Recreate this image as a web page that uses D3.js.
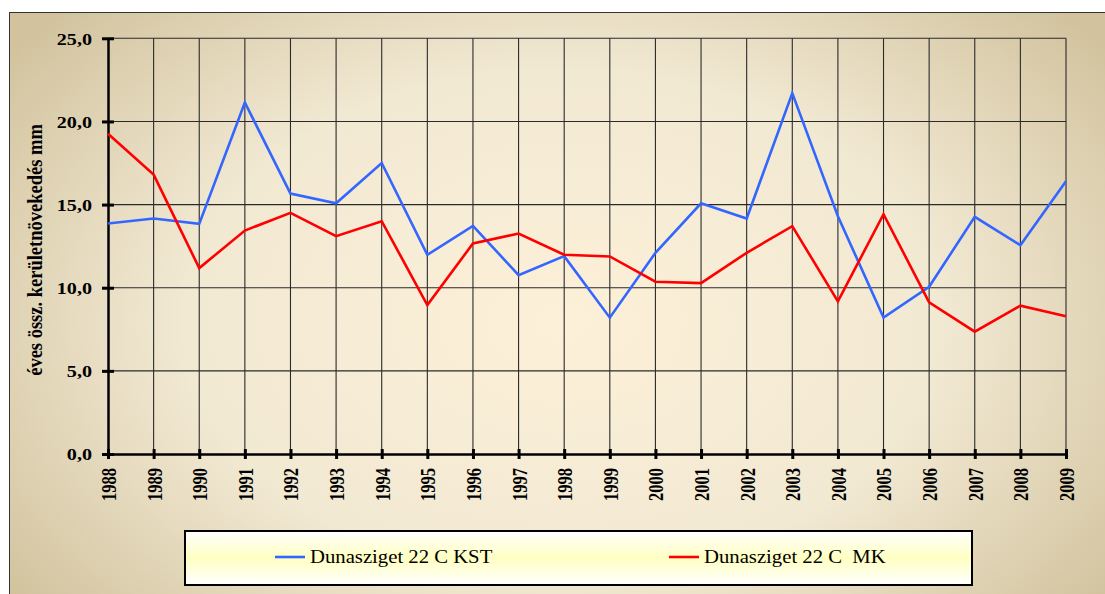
<!DOCTYPE html>
<html>
<head>
<meta charset="utf-8">
<script src="https://cdn.jsdelivr.net/npm/d3@7"></script>
<style>
  html, body { margin: 0; padding: 0; background: #ffffff; }
  svg { display: block; }
  text { font-family: "Liberation Serif", "Times New Roman", "DejaVu Serif", serif; }
</style>
</head>
<body>
<svg id="chart" width="1105" height="594"></svg>
<script>
const years = ["1988","1989","1990","1991","1992","1993","1994","1995","1996","1997","1998","1999","2000","2001","2002","2003","2004","2005","2006","2007","2008","2009"];
const kst = [13.86,14.16,13.84,21.14,15.66,15.08,17.5,11.98,13.72,10.76,11.9,8.2,12.1,15.08,14.16,21.7,14.3,8.2,10.06,14.26,12.56,16.4];
const mk = [19.26,16.8,11.18,13.44,14.5,13.1,14.0,8.96,12.66,13.26,11.98,11.88,10.36,10.28,12.1,13.7,9.18,14.42,9.12,7.36,8.92,8.28];
const yTicks = [0,5,10,15,20,25];
const seriesNames = ["Dunasziget 22 C KST", "Dunasziget 22 C\u00a0\u00a0MK"];
const seriesColors = ["#3366ff", "#ff0000"];
const yTitle = "éves össz. kerületnövekedés mm";

(function () {
const svg = d3.select("#chart");
const defs = svg.append("defs");

const bg = defs.append("radialGradient").attr("id","bgGrad")
  .attr("cx","0.5").attr("cy","0.52").attr("r","0.62")
  .attr("gradientTransform","translate(0.5,0.5) scale(1,1.25) translate(-0.5,-0.5)");
bg.append("stop").attr("offset","0%").attr("stop-color","#fdf0d8");
bg.append("stop").attr("offset","55%").attr("stop-color","#f2e9d3");
bg.append("stop").attr("offset","100%").attr("stop-color","#d2c39e");

const lg = defs.append("linearGradient").attr("id","legGrad").attr("x1","0").attr("y1","0").attr("x2","0").attr("y2","1");
lg.append("stop").attr("offset","0%").attr("stop-color","#ffffff");
lg.append("stop").attr("offset","50%").attr("stop-color","#ffffc2");
lg.append("stop").attr("offset","100%").attr("stop-color","#ffffff");

// outer frame
svg.append("rect").attr("x",9.5).attr("y",12.5).attr("width",1105).attr("height",590)
  .attr("fill","url(#bgGrad)").attr("stroke","#333").attr("stroke-width",1);

const pL = 108, pR = 1066, pT = 38.3, pB = 454;
const x = d3.scalePoint().domain(years).range([pL, pR]).padding(0);
const y = d3.scaleLinear().domain([0,25]).range([pB, pT]);

// grid
const g = svg.append("g");
g.selectAll(".hg").data(yTicks.filter(d => d > 0)).join("line")
  .attr("x1", pL).attr("x2", pR).attr("y1", d => y(d)).attr("y2", d => y(d))
  .attr("stroke","#2a2a2a").attr("stroke-width",1.1);
g.selectAll(".vg").data(years.slice(1)).join("line")
  .attr("x1", d => x(d)).attr("x2", d => x(d)).attr("y1", pT).attr("y2", pB)
  .attr("stroke","#2a2a2a").attr("stroke-width",1.1);

// axes
const yAxis = d3.axisLeft(y).tickValues(yTicks).tickSize(0)
  .tickFormat(d => d3.format(".1f")(d).replace(".", ","));
const ya = svg.append("g").attr("transform",`translate(${pL},0)`).call(yAxis);
ya.attr("font-family", null);
ya.select(".domain").attr("stroke","#000").attr("stroke-width",2.5);
ya.selectAll(".tick text")
  .attr("x", null).attr("dy", "0.33em")
  .attr("transform","translate(-16,0) scale(1.15,1)")
  .attr("font-weight","bold").attr("font-size",17.5).attr("fill","#000");
ya.selectAll(".tick").append("line").attr("x1",-6).attr("x2",6).attr("stroke","#000").attr("stroke-width",3);

const xAxis = d3.axisBottom(x).tickSize(0);
const xa = svg.append("g").attr("transform",`translate(0,${pB})`).call(xAxis);
xa.attr("font-family", null);
xa.select(".domain").attr("stroke","#000").attr("stroke-width",2.5);
xa.selectAll(".tick").append("line").attr("y1",-5).attr("y2",5).attr("stroke","#000").attr("stroke-width",3);
xa.selectAll(".tick text")
  .attr("transform","translate(0,14) scale(1.33,1) rotate(-90)").attr("text-anchor","end")
  .attr("x",0).attr("y",0).attr("dy","0.34em")
  .attr("font-weight","bold").attr("font-size",16.5).attr("fill","#000");

// y title
svg.append("text").attr("transform",`translate(42,250) scale(1.1,1) rotate(-90)`).attr("text-anchor","middle")
  .attr("font-weight","bold").attr("font-size",18.5)
  .attr("fill","#000").text(yTitle);

// lines
const line = d3.line().x((d,i) => x(years[i])).y(d => y(d));
[kst, mk].forEach((s, k) => {
  svg.append("path").datum(s).attr("d", line).attr("fill","none")
    .attr("stroke", seriesColors[k]).attr("stroke-width", 2.6).attr("stroke-linejoin","miter");
});

// legend
svg.append("rect").attr("x",185).attr("y",531).attr("width",787).attr("height",54)
  .attr("fill","url(#legGrad)").attr("stroke","#000").attr("stroke-width",2);
const legX = [275, 669];
seriesNames.forEach((n, k) => {
  svg.append("line").attr("x1",legX[k]).attr("x2",legX[k]+30).attr("y1",557).attr("y2",557)
    .attr("stroke",seriesColors[k]).attr("stroke-width",2.6);
  svg.append("text").attr("transform",`translate(${legX[k]+35},563) scale(1.12,1)`)
    .attr("font-size",18.5).attr("fill","#000").text(n);
});
})();
</script>
</body>
</html>
